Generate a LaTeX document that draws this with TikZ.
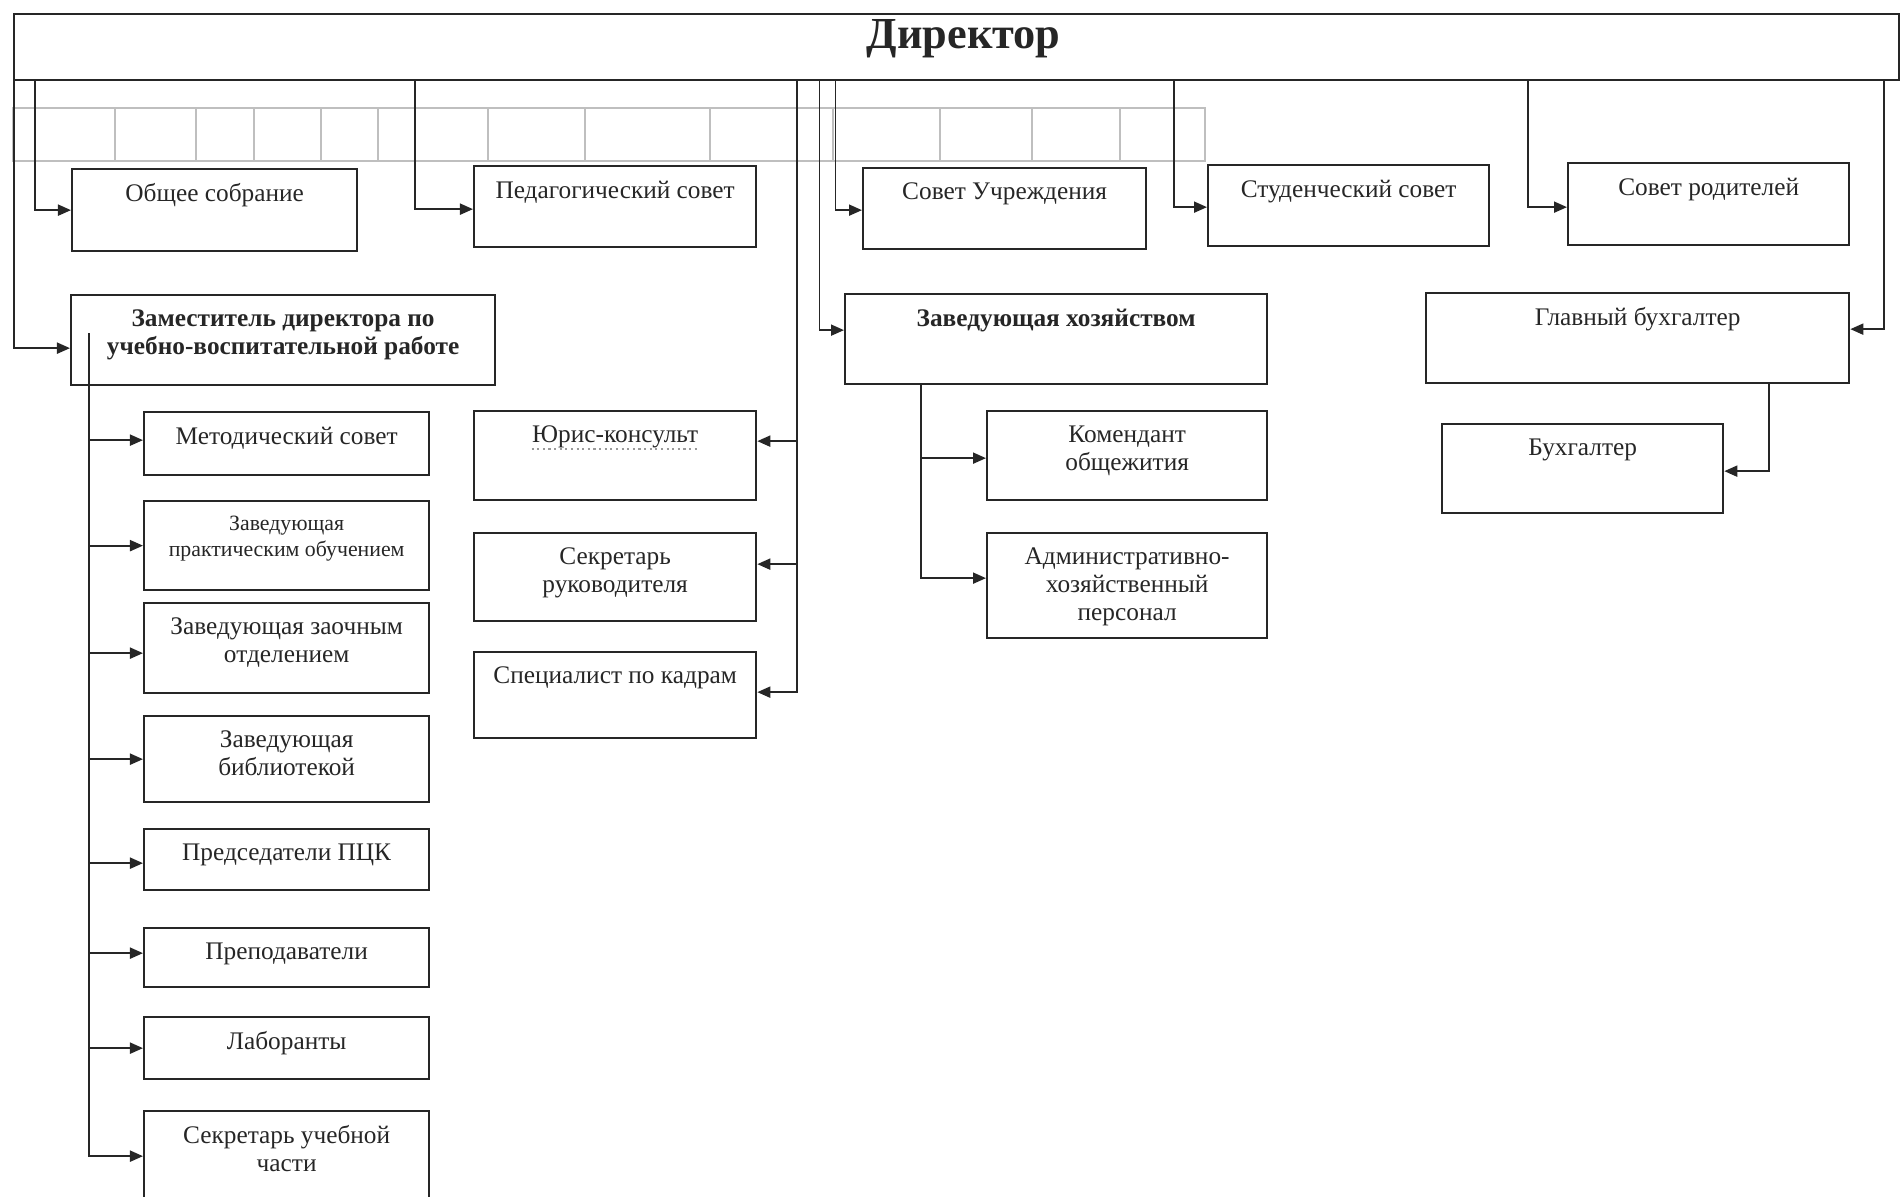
\documentclass[tikz,border=0pt]{standalone}
\usepackage{fontspec}
\setmainfont{Liberation Serif}
\usetikzlibrary{arrows.meta,positioning}
\tikzset{
	unit/.style={draw=black!85, line width=0.65pt, anchor=north west, inner sep=0pt},
	unittext/.style={font=\fontsize{7.2}{8}\selectfont, align=center, inner sep=0pt, text=black!85},
	boldtext/.style={font=\fontsize{7.2}{8}\selectfont\bfseries},
	smalltext/.style={font=\fontsize{6.2}{7.6}\selectfont},
	link/.style={draw=black!85, line width=0.55pt, -{Triangle[length=1.3mm,width=1.1mm]}},
	ghost/.style={draw=black!25, line width=0.6pt}
}
\newcommand{\unitbox}[7][]{%
	\node[unit, minimum width=#5*0.01cm, minimum height=#6*0.01cm] (#2) at (#3,#4) {};
	\node[unittext, #1, below=0.15cm of #2.north] (#2-txt) {#7};}

\begin{document}
\begin{tikzpicture}[x=0.01cm, y=-0.01cm]
			%%%%% START %%%%%
			\useasboundingbox (0,0) rectangle (1900,1197);
			
			% faint table behind the chart
			\draw[ghost] (13,108) rectangle (1205,161);
			\draw[ghost] (115,108) -- (115,161) (196,108) -- (196,161) (254,108) -- (254,161)
			(321,108) -- (321,161) (378,108) -- (378,161) (488,108) -- (488,161)
			(585,108) -- (585,161) (710,108) -- (710,161) (833,108) -- (833,161)
			(940,108) -- (940,161) (1032,108) -- (1032,161) (1120,108) -- (1120,161);
			
			\node[unit, minimum width=18.84cm, minimum height=0.66cm] (dir) at (13,13) {};
			\node[font=\fontsize{12.6}{15}\selectfont\bfseries, text=black!85, inner sep=0pt] (dir-txt) at ([xshift=0.07cm, yshift=0.08cm]dir.center) {Директор};
			
			\unitbox{obsh}{71}{168}{285}{82}{Общее собрание}
			\unitbox{ped}{473}{165}{282}{81}{Педагогический совет}
			\unitbox{sovuch}{862}{167}{283}{81}{Совет Учреждения}
			\unitbox{stud}{1207}{164}{281}{81}{Студенческий совет}
			\unitbox{rod}{1567}{162}{281}{82}{Совет родителей}
			
			\unitbox[boldtext]{zam}{70}{294}{424}{90}{Заместитель директора по\\учебно-воспитательной работе}
			\unitbox[boldtext]{zavhoz}{844}{293}{422}{90}{Заведующая хозяйством}
			\unitbox{glav}{1425}{292}{423}{90}{Главный бухгалтер}
			\unitbox{buh}{1441}{423}{281}{89}{Бухгалтер}
			
			\unitbox{metod}{143}{411}{285}{63}{Методический совет}
			\unitbox[smalltext]{prakt}{143}{500}{285}{89}{Заведующая\\практическим обучением}
			\unitbox{zaoch}{143}{602}{285}{90}{Заведующая заочным\\отделением}
			\unitbox{bibl}{143}{715}{285}{86}{Заведующая\\библиотекой}
			\unitbox{pck}{143}{828}{285}{61}{Председатели ПЦК}
			\unitbox{prep}{143}{927}{285}{59}{Преподаватели}
			\unitbox{lab}{143}{1016}{285}{62}{Лаборанты}
			\unitbox{sekr}{143}{1110}{285}{90}{Секретарь учебной\\части}
			
			\unitbox{juris}{473}{410}{282}{89}{Юрис-консульт}
			\draw[black!40, densely dotted, line width=0.6pt] (juris-txt.south west) -- (juris-txt.south east);
			\unitbox{sekrruk}{473}{532}{282}{88}{Секретарь\\руководителя}
			\unitbox{spec}{473}{651}{282}{86}{Специалист по кадрам}
			
			\unitbox{koment}{986}{410}{280}{89}{Комендант\\общежития}
			\unitbox{adm}{986}{532}{280}{105}{Административно-\\хозяйственный\\персонал}
			
			% lines down from the director
			\coordinate (t1) at ([xshift=0.01cm]dir.south west);
			\coordinate (t2) at ([xshift=0.22cm]dir.south west);
			\coordinate (t3) at ([xshift=4.02cm]dir.south west);
			\coordinate (t4) at ([xshift=7.84cm]dir.south west);
			\coordinate (t5) at ([xshift=8.06cm]dir.south west);
			\coordinate (t6) at ([xshift=8.22cm]dir.south west);
			\coordinate (t7) at ([xshift=11.60cm]dir.south west);
			\coordinate (t8) at ([xshift=15.14cm]dir.south west);
			\coordinate (t9) at ([xshift=18.70cm]dir.south west);
			
			\draw[link] (t1) |- ([yshift=-0.08cm]zam.west);
			\draw[link] (t2) |- (obsh.west);
			\draw[link] (t3) |- ([yshift=-0.025cm]ped.west);
			\draw[link] (t4) |- ([yshift=0.03cm]spec.east);
			\draw[link] ([yshift=0.145cm]juris.east -| t4) -- ([yshift=0.145cm]juris.east);
			\draw[link] ([yshift=0.13cm]sekrruk.east -| t4) -- ([yshift=0.13cm]sekrruk.east);
			\draw[link] (t5) |- ([yshift=0.09cm]zavhoz.west);
			\draw[link] (t6) |- ([yshift=-0.015cm]sovuch.west);
			\draw[link] (t7) |- ([yshift=-0.015cm]stud.west);
			\draw[link] (t8) |- ([yshift=-0.03cm]rod.west);
			\draw[link] (t9) |- ([yshift=0.09cm]glav.east);
			
			% deputy's branch
			\coordinate (zs) at ([xshift=0.19cm, yshift=0.07cm]zam.west);
			\draw[link] (zs) |- (sekr.west);
			\draw[link] ([yshift=0.035cm]metod.west -| zs) -- ([yshift=0.035cm]metod.west);
			\draw[link] (prakt.west -| zs) -- (prakt.west);
			\draw[link] ([yshift=-0.05cm]zaoch.west -| zs) -- ([yshift=-0.05cm]zaoch.west);
			\draw[link] (bibl.west -| zs) -- (bibl.west);
			\draw[link] ([yshift=-0.035cm]pck.west -| zs) -- ([yshift=-0.035cm]pck.west);
			\draw[link] ([yshift=0.045cm]prep.west -| zs) -- ([yshift=0.045cm]prep.west);
			\draw[link] (lab.west -| zs) -- (lab.west);
			
			% housekeeping branch
			\coordinate (zh) at ([xshift=0.77cm]zavhoz.south west);
			\draw[link] (zh) |- ([yshift=0.075cm]adm.west);
			\draw[link] ([yshift=-0.025cm]koment.west -| zh) -- ([yshift=-0.025cm]koment.west);
			
			% accounts
			\coordinate (gb) at ([xshift=-0.81cm]glav.south east);
			\draw[link] (gb) |- ([yshift=-0.025cm]buh.east);
			
			%%%%% END %%%%%
\end{tikzpicture}
\end{document}
